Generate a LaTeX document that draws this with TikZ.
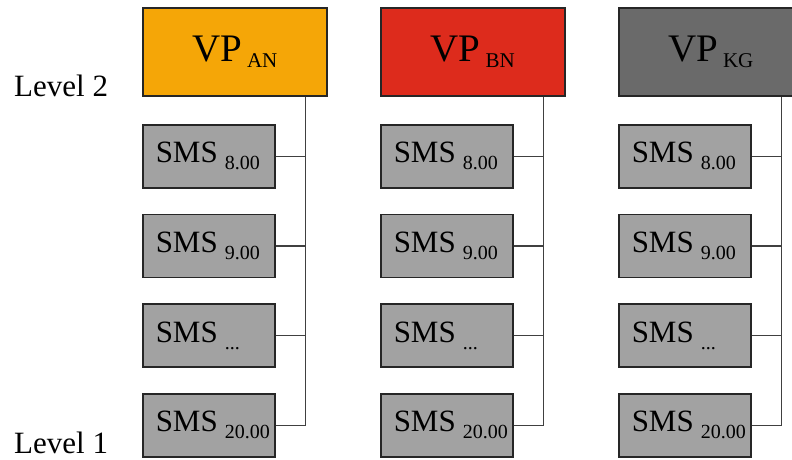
\documentclass[tikz,border=0pt]{standalone}
\usepackage{fontspec}
\setmainfont{Liberation Serif}
\usetikzlibrary{positioning}
\definecolor{vpOrange}{HTML}{F5A607}
\definecolor{vpRed}{HTML}{DD2B1C}
\definecolor{vpGray}{HTML}{6A6A6A}
\definecolor{smsGray}{HTML}{A2A2A2}
\definecolor{boxEdge}{HTML}{262626}
\definecolor{busGray}{HTML}{404040}
\newcommand{\smsdots}{...}
\newcommand{\vpsub}[1]{\hspace{5pt}\raisebox{-6pt}{\fontsize{21}{25}\selectfont #1}}
\newcommand{\smssub}[1]{\hspace{7pt}\raisebox{-7pt}{\fontsize{20}{24}\selectfont #1}}

\begin{document}
\begin{tikzpicture}[
  x=1pt, y=-1pt,
  vpbox/.style={draw=boxEdge, line width=1.5pt, fill=#1, anchor=north west,
                minimum width=184pt, minimum height=88pt, inner sep=0pt,
                font=\fontsize{39}{46}\selectfont},
  smsbox/.style={draw=boxEdge, line width=1.5pt, fill=smsGray, anchor=north west,
                 minimum width=132pt, minimum height=63pt, text width=106pt,
                 inner xsep=13pt, inner ysep=0pt, align=left,
                 font=\fontsize{31}{37}\selectfont},
  bus/.style={draw=busGray, line width=1.5pt},
  level/.style={anchor=base west, inner sep=0pt, font=\fontsize{31}{37}\selectfont},
]
\useasboundingbox (0,0) rectangle (792,459);
\clip (0,0) rectangle (792,459);
\node[level] (lvlTwo) at (14,96) {Level 2};
\node[level] (lvlOne) at (14,453) {Level 1};
\foreach \col/\fillc [count=\c from 0] in {AN/vpOrange, BN/vpRed, KG/vpGray} {
  \begin{scope}[xshift=\c*238pt]
    \node[vpbox=\fillc] (vp\col) at (142,7) {VP\vpsub{\col}};
    \coordinate (bus\col) at ([xshift=-22pt]vp\col.south east);
    \foreach \t [count=\r from 0] in {8.00, 9.00, \smsdots, 20.00} {
      \node[smsbox] (sms\col\r) at (142,{124+89.7*\r}) {\mbox{SMS\smssub{\t}}};
      \draw[bus] (sms\col\r.east) -- (sms\col\r.east -| bus\col);
    }
    \draw[bus] (vp\col.south -| bus\col) |- (sms\col3.east);
  \end{scope}
}
\end{tikzpicture}
\end{document}
